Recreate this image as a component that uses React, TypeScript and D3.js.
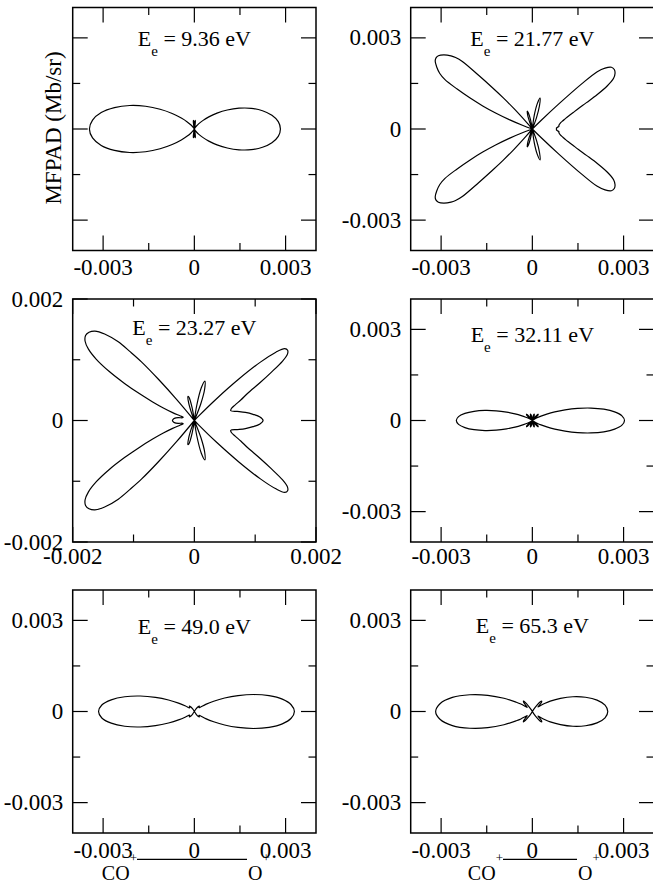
import React from "react";
import * as d3 from "d3";

const FONT = "'Liberation Serif', 'Times New Roman', Times, serif";

// Polar samples of each MFPAD (upper half, angle in degrees from the CO+ -> O+ axis),
// radius in units of 1e-3 Mb/sr. The lower half is the mirror image.
const ANG_936 = [0,5,10,15,20,25,30,35,40,45,50,55,60,66,72,78,80,82,84,86,88,90,92,94,96,98,100,102,108,114,120,125,130,135,140,145,150,155,160,165,170,175,180];
const R_936 = [2.83,2.77,2.59,2.32,1.99,1.62,1.25,0.91,0.62,0.39,0.23,0.12,0.05,0.015,0.004,0,0.12,0.24,0.29,0.24,0.1,0,0.1,0.24,0.29,0.24,0.12,0,0.004,0.015,0.031,0.079,0.17,0.33,0.56,0.89,1.30,1.77,2.26,2.72,3.11,3.36,3.45];

const ANG_2177 = [0,2,4,6,8,12,15,18,20,22,24,26,28,30,32,34,36,38,40,41.5,42.5,43.5,44.5,45.5,67,70,73,76,79,82,85,98,101,104,106,109,112,114,129,131,132,133,134,135,136,137,138,140,142,143.5,145,147,149,150.5,152,153.5,155,156.5,158,159.5,161,180];
const R_2177 = [0.80,0.79,0.83,0.88,0.88,0.94,1.04,1.16,1.29,1.45,1.66,1.98,2.42,2.85,3.15,3.28,3.33,3.30,3.12,2.85,2.20,1.20,0.40,0,0,0.40,0.80,1.05,0.85,0.45,0,0,0.30,0.55,0.61,0.45,0.15,0,0,0.30,0.90,1.40,1.90,2.50,3.20,3.45,3.60,3.80,3.92,3.94,3.90,3.75,3.55,3.30,2.80,2.30,1.80,1.30,0.80,0.35,0,0];

const ANG_2327 = [0,3,6,9,12,15,18,21,24,27,30,32,34,35.5,37,38.5,40,41.5,43,44.5,46,47,66,69,72,75,78,81,83,97,100,103,105,108,111,113,128,130,131,132,133,134,136,138,140,142,144,146,148,150,152,154,156,158,160,162,164,167,170,174,177,180];
const R_2327 = [1.13,1.08,0.97,0.85,0.72,0.62,0.64,0.72,0.84,0.98,1.25,1.48,1.75,1.88,1.92,1.90,1.75,1.45,1.00,0.50,0.10,0,0,0.30,0.55,0.67,0.55,0.25,0,0,0.22,0.39,0.41,0.30,0.10,0,0,0.45,0.90,1.30,1.55,1.80,2.05,2.20,2.26,2.27,2.22,2.10,1.90,1.62,1.30,1.00,0.75,0.55,0.38,0.25,0.19,0.20,0.27,0.33,0.35,0.36];

const ANG_3211 = [0,3,6,9,12,15,18,21,24,27,30,34,37,40,44,48,52,56,60,66,71,75,79,84,90,96,101,105,109,114,120,124,128,132,136,140,143,146,150,153,156,159,162,165,168,171,174,177,180];
const R_3211 = [3.03,2.95,2.72,2.38,1.97,1.54,1.13,0.79,0.52,0.32,0.18,0.08,0.03,0.12,0.26,0.28,0.15,0.02,0,0.10,0.20,0.22,0.15,0.02,0,0.02,0.15,0.22,0.20,0.10,0,0.02,0.15,0.28,0.26,0.12,0.03,0.06,0.13,0.24,0.40,0.61,0.89,1.23,1.59,1.94,2.23,2.43,2.50];

const ANG_490 = [0,4,8,12,16,20,24,28,32,36,40,44,48,52,56,60,90,120,124,128,132,136,140,144,148,152,156,160,164,168,172,176,180];
const R_490 = [3.29,3.19,2.92,2.51,2.03,1.53,1.09,0.72,0.44,0.24,0.20,0.22,0.24,0.20,0.10,0.02,0,0.02,0.10,0.20,0.24,0.22,0.20,0.20,0.34,0.59,0.93,1.36,1.85,2.34,2.76,3.05,3.15];

const ANG_653 = [0,5,10,15,20,25,30,33,36,39,42,45,48,51,54,57,60,90,119,122,125,128,130.5,133,136,139,141.5,144,147,150,155,160,165,170,175,180];
const R_653 = [2.48,2.40,2.16,1.81,1.42,1.02,0.68,0.50,0.34,0.24,0.32,0.42,0.46,0.40,0.25,0.08,0,0,0,0.06,0.22,0.38,0.45,0.42,0.32,0.24,0.22,0.30,0.45,0.61,1.03,1.56,2.13,2.67,3.04,3.18];

const ENERGIES = ["9.36", "21.77", "23.27", "32.11", "49.0", "65.3"];

const TICKS_3 = [-3, 0, 3];
const MINOR_3 = [-1.5, 1.5];
const LABELS_3 = ["-0.003", "0", "0.003"];
const TICKS_2 = [-2, 0, 2];
const MINOR_2 = [-1, 1];
const LABELS_2 = ["-0.002", "0", "0.002"];

// layout
const PW = 243.3;
const PH = 243;
const COLS = [72.7, 410.7];
const ROWS = [7.5, 299, 590];
const XLAB_DY = [24.5, 22, 25];
const ELAB_DY = [38.5, 38.5, 36, 42.7, 44.3, 43.3];
const MAJ = 15;
const MIN = 7.5;

type P = {
  ang: number[];
  r: number[];
  lim: number;
  ticks: number[];
  minor: number[];
  labels: string[];
  showY: boolean;
};

const PANELS: P[] = [
  { ang: ANG_936, r: R_936, lim: 4, ticks: TICKS_3, minor: MINOR_3, labels: LABELS_3, showY: false },
  { ang: ANG_2177, r: R_2177, lim: 4, ticks: TICKS_3, minor: MINOR_3, labels: LABELS_3, showY: true },
  { ang: ANG_2327, r: R_2327, lim: 2, ticks: TICKS_2, minor: MINOR_2, labels: LABELS_2, showY: true },
  { ang: ANG_3211, r: R_3211, lim: 4, ticks: TICKS_3, minor: MINOR_3, labels: LABELS_3, showY: true },
  { ang: ANG_490, r: R_490, lim: 4, ticks: TICKS_3, minor: MINOR_3, labels: LABELS_3, showY: true },
  { ang: ANG_653, r: R_653, lim: 4, ticks: TICKS_3, minor: MINOR_3, labels: LABELS_3, showY: true },
];

function Panel({ p, idx }: { p: P; idx: number }) {
  const col = idx % 2;
  const row = Math.floor(idx / 2);
  const x0 = COLS[col];
  const y0 = ROWS[row];
  const x = d3.scaleLinear().domain([-p.lim, p.lim]).range([x0, x0 + PW]);
  const y = d3.scaleLinear().domain([-p.lim, p.lim]).range([y0 + PH, y0]);

  const pts: [number, number][] = [];
  p.ang.forEach((a, i) => {
    const t = (a * Math.PI) / 180;
    pts.push([p.r[i] * Math.cos(t), p.r[i] * Math.sin(t)]);
  });
  for (let i = p.ang.length - 2; i >= 1; i--) {
    const t = (p.ang[i] * Math.PI) / 180;
    pts.push([p.r[i] * Math.cos(t), -p.r[i] * Math.sin(t)]);
  }
  const line = d3
    .line<[number, number]>()
    .x((d) => x(d[0]))
    .y((d) => y(d[1]))
    .curve(d3.curveCatmullRomClosed.alpha(0.5));

  const xb = y0 + PH;
  const xr = x0 + PW;
  const tickLine = (t: number, len: number, k: string) => (
    <g key={k} stroke="#000" strokeWidth={1.2}>
      <line x1={x(t)} x2={x(t)} y1={xb} y2={xb - len} />
      <line x1={x(t)} x2={x(t)} y1={y0} y2={y0 + len} />
      <line x1={x0} x2={x0 + len} y1={y(t)} y2={y(t)} />
      <line x1={xr} x2={xr - len} y1={y(t)} y2={y(t)} />
    </g>
  );

  return (
    <g>
      <path d={line(pts) || ""} fill="none" stroke="#000" strokeWidth={1.2} strokeLinejoin="round" />
      {p.ticks.map((t, i) => tickLine(t, MAJ, "M" + i))}
      {p.minor.map((t, i) => tickLine(t, MIN, "m" + i))}
      <rect x={x0} y={y0} width={PW} height={PH} fill="none" stroke="#000" strokeWidth={1.5} />
      {p.ticks.map((t, i) => (
        <text key={"xl" + i} x={x(t)} y={xb + XLAB_DY[row]} textAnchor="middle" fontSize={23}>
          {p.labels[i]}
        </text>
      ))}
      {p.showY &&
        p.ticks.map((t, i) => (
          <text key={"yl" + i} x={x0 - 9.5} y={y(t) + 7.5} textAnchor="end" fontSize={23}>
            {p.labels[i]}
          </text>
        ))}
      <text x={x0 + PW / 2} y={y0 + ELAB_DY[idx]} textAnchor="middle" fontSize={22}>
        <tspan>E</tspan>
        <tspan dy={10} fontSize={15}>e</tspan>
        <tspan dy={-10}>{" = " + ENERGIES[idx] + " eV"}</tspan>
      </text>
    </g>
  );
}

function AxisNote({ x1, x2 }: { x1: number; x2: number }) {
  return (
    <g>
      <text x={x1} y={880} textAnchor="end" fontSize={20}>
        CO<tspan dy={-18} fontSize={13}>+</tspan>
      </text>
      <line x1={x1} x2={x2} y1={859.3} y2={859.3} stroke="#000" strokeWidth={1.2} />
      <text x={x2 + 1} y={880} textAnchor="start" fontSize={20}>
        O<tspan dy={-18} fontSize={13}>+</tspan>
      </text>
    </g>
  );
}

export default function App() {
  return (
    <svg
      width={653}
      height={896}
      style={{ position: "absolute", left: 0, top: 0, background: "#fff" }}
      fontFamily={FONT}
    >
      <rect x={0} y={0} width={653} height={896} fill="#fff" />
      {PANELS.map((p, i) => (
        <Panel key={i} p={p} idx={i} />
      ))}
      <text transform="translate(60.5,128) rotate(-90)" textAnchor="middle" fontSize={23}>
        MFPAD (Mb/sr)
      </text>
      <AxisNote x1={137} x2={247} />
      <AxisNote x1={503} x2={577} />
    </svg>
  );
}
